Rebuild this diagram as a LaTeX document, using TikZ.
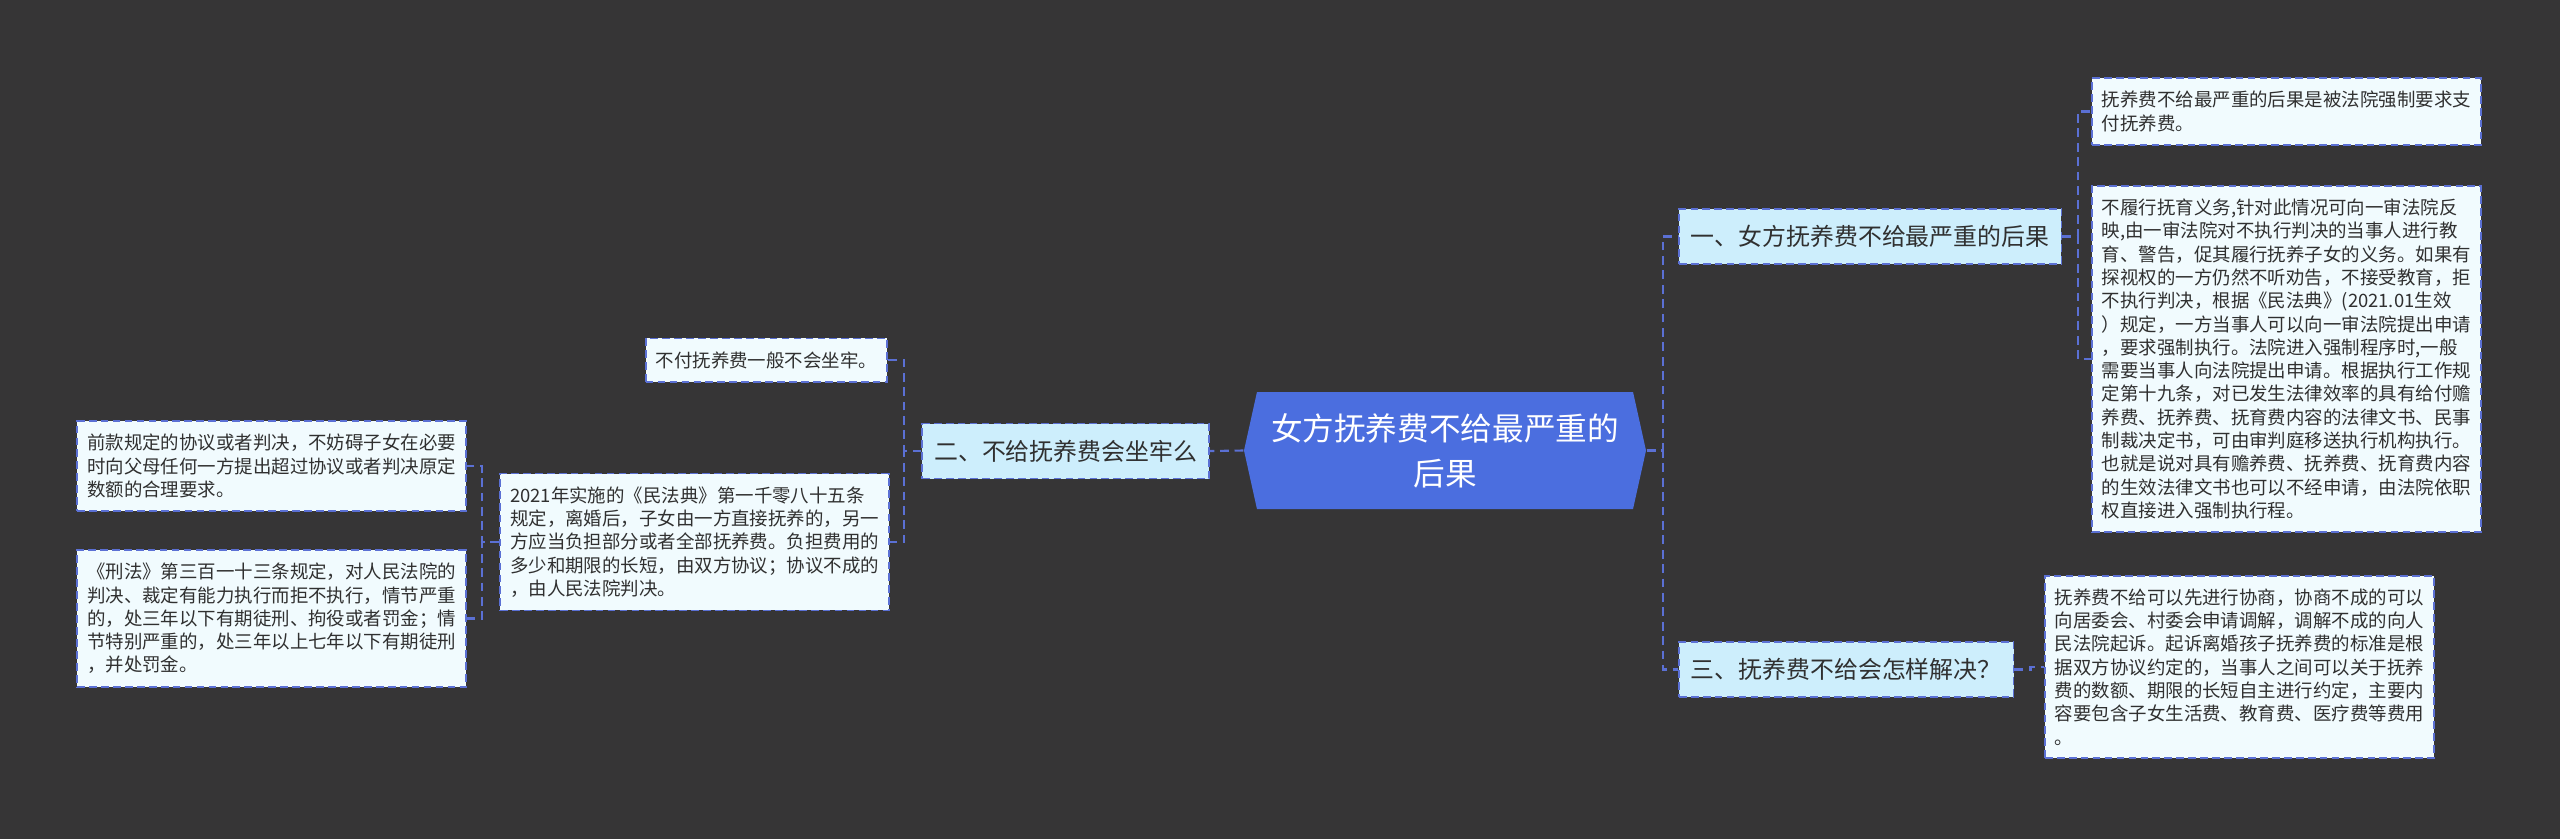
\documentclass[tikz,border=0pt]{standalone}
\usepackage{fontspec}
\setmainfont{Noto Sans CJK SC}
\usepackage{xcolor}
\usetikzlibrary{shapes.symbols}
\definecolor{bgdark}{HTML}{363536}
\definecolor{rootblue}{HTML}{4B6EDF}
\definecolor{linkblue}{HTML}{5B70D4}
\definecolor{topicfill}{HTML}{CDEEFC}
\definecolor{leaffill}{HTML}{F1FBFE}
\definecolor{textdark}{HTML}{303030}

\begin{document}
\begin{tikzpicture}[
  link/.style={draw=linkblue,line width=0.6pt,dash pattern=on 2.5pt off 1.6pt},
  box/.style={draw=linkblue,line width=0.5pt,dash pattern=on 2.2pt off 1.2pt,text=textdark},
  root/.style={signal,signal to=east and west,signal pointer angle=155,fill=rootblue,text=white,
    minimum width=4.02cm,minimum height=1.17cm,align=center,font=\fontsize{9}{12.8}\selectfont},
  topic/.style={box,fill=topicfill,inner xsep=0.12cm,minimum height=0.55cm,font=\fontsize{6.8}{8}\selectfont},
  leaf/.style={box,fill=leaffill,align=left,inner xsep=0.1cm,inner ysep=0.13cm,font=\fontsize{5.25}{6.63}\selectfont},
  wide/.style={leaf,text width=3.69cm}]
\fill[bgdark] (0,0) rectangle (25.6,-8.39);
% ---- centre and the three topics ----
\node[root] (C) at (14.45,-4.505) {女方抚养费不给最严重的\\后果};
\node[topic,anchor=west] (B1) at (16.78,-2.365) {一、女方抚养费不给最严重的后果};
\node[topic,anchor=east] (B2) at (12.10,-4.51) {二、不给抚养费会坐牢么};
\node[topic,anchor=west] (B3) at (16.78,-6.695) {三、抚养费不给会怎样解决？};
% ---- right side leaves ----
\node[wide,anchor=west] (R1) at (20.91,-1.115) {抚养费不给最严重的后果是被法院强制要求支\\付抚养费。};
\node[wide,anchor=west] (R2) at (20.91,-3.59) {不履行抚育义务,针对此情况可向一审法院反\\
映,由一审法院对不执行判决的当事人进行教\\
育、警告，促其履行抚养子女的义务。如果有\\
探视权的一方仍然不听劝告，不接受教育，拒\\
不执行判决，根据《民法典》(2021.01生效\\
）规定，一方当事人可以向一审法院提出申请\\
，要求强制执行。法院进入强制程序时,一般\\
需要当事人向法院提出申请。根据执行工作规\\
定第十九条，对已发生法律效率的具有给付赡\\
养费、抚养费、抚育费内容的法律文书、民事\\
制裁决定书，可由审判庭移送执行机构执行。\\
也就是说对具有赡养费、抚养费、抚育费内容\\
的生效法律文书也可以不经申请，由法院依职\\
权直接进入强制执行程。};
\node[wide,anchor=west] (R3) at (20.44,-6.67) {抚养费不给可以先进行协商，协商不成的可以\\
向居委会、村委会申请调解，调解不成的向人\\
民法院起诉。起诉离婚孩子抚养费的标准是根\\
据双方协议约定的，当事人之间可以关于抚养\\
费的数额、期限的长短自主进行约定，主要内\\
容要包含子女生活费、教育费、医疗费等费用\\
。};
% ---- left side leaves ----
\node[leaf,anchor=east] (L1) at (8.88,-3.60) {不付抚养费一般不会坐牢。};
\node[wide,anchor=east] (L2) at (8.90,-5.42) {2021年实施的《民法典》第一千零八十五条\\
规定，离婚后，子女由一方直接抚养的，另一\\
方应当负担部分或者全部抚养费。负担费用的\\
多少和期限的长短，由双方协议；协议不成的\\
，由人民法院判决。};
\node[wide,anchor=east] (L3) at (4.67,-4.66) {前款规定的协议或者判决，不妨碍子女在必要\\
时向父母任何一方提出超过协议或者判决原定\\
数额的合理要求。};
\node[wide,anchor=east] (L4) at (4.67,-6.185) {《刑法》第三百一十三条规定，对人民法院的\\
判决、裁定有能力执行而拒不执行，情节严重\\
的，处三年以下有期徒刑、拘役或者罚金；情\\
节特别严重的，处三年以上七年以下有期徒刑\\
，并处罚金。};
% ---- connectors ----
\draw[link] (C.west) -- (B2.east);
\draw[link] (C.east) -- ++(0.16,0) |- (B1.west);
\draw[link] (C.east) -- ++(0.16,0) |- (B3.west);
\draw[link] (B1.east) -- ++(0.16,0) |- (R1.west);
\draw[link] (B1.east) -- ++(0.16,0) |- (R2.west);
\draw[link] (B3.east) -- ++(0.16,0) |- (R3.west);
\draw[link] (B2.west) -- ++(-0.17,0) |- (L1.east);
\draw[link] (B2.west) -- ++(-0.17,0) |- (L2.east);
\draw[link] (L2.west) -- ++(-0.17,0) |- (L3.east);
\draw[link] (L2.west) -- ++(-0.17,0) |- (L4.east);
\end{tikzpicture}
\end{document}
